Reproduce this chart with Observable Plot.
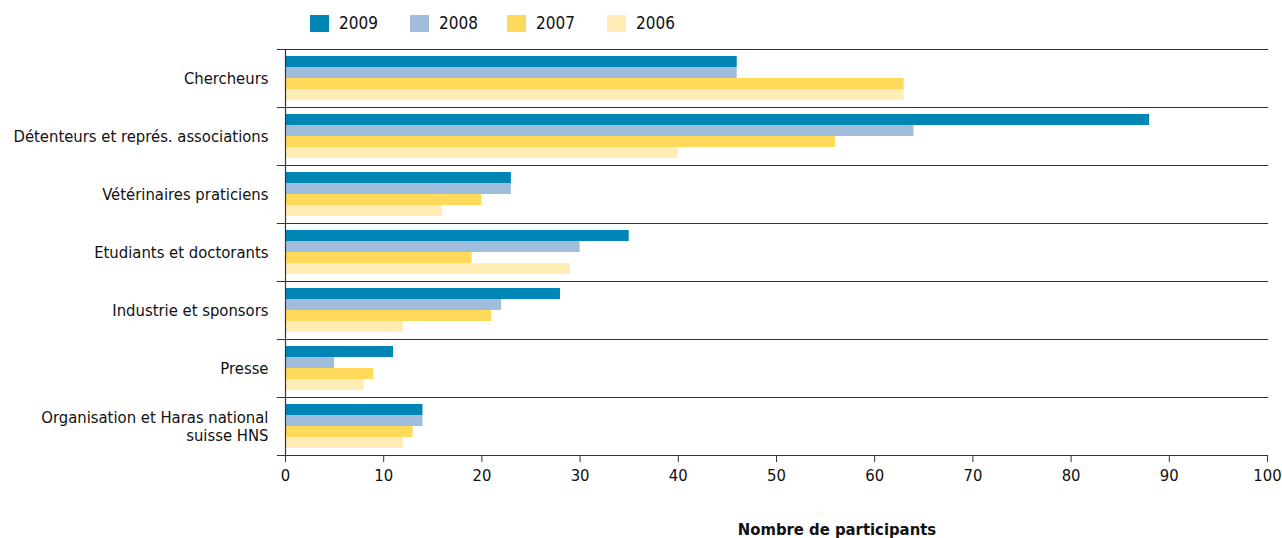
<!DOCTYPE html>
<html><head><meta charset="utf-8">
<script src="https://cdn.jsdelivr.net/npm/d3@7"></script>
<script src="https://cdn.jsdelivr.net/npm/@observablehq/plot@0.6"></script>
<style>
body{margin:0;background:#fff;font-family:"DejaVu Sans Condensed",Roboto,sans-serif;}
#wrap{position:relative;width:1282px;height:538px;overflow:hidden;}
#legend{position:absolute;left:0;top:0;height:45px;width:1282px;}
.li{position:absolute;top:13px;display:flex;align-items:center;font-size:17px;color:#111;}
.sw{width:19px;height:17px;margin-right:10px;}
#chart{position:absolute;left:0;top:45px;}
#xtitle{position:absolute;top:520px;left:687px;width:300px;text-align:center;font-weight:bold;font-size:16.5px;color:#111;}
</style></head>
<body><div id="wrap"><div id="legend"></div><div id="chart"></div><div id="xtitle">Nombre de participants</div></div>
<script>
const categories = ["Chercheurs","Détenteurs et représ. associations","Vétérinaires praticiens","Etudiants et doctorants","Industrie et sponsors","Presse","Organisation et Haras national\nsuisse HNS"];
const years = ["2009","2008","2007","2006"];
const v2009 = [46,88,23,35,28,11,14];
const v2008 = [46,64,23,30,22,5,14];
const v2007 = [63,56,20,19,21,9,13];
const v2006 = [63,40,16,29,12,8,12];
const colors = ["#0085b5","#a0bedb","#ffd95a","#ffedb5"];
const xTicks = [0,10,20,30,40,50,60,70,80,90,100];

const series = [v2009,v2008,v2007,v2006];
const data = [];
categories.forEach((c,i)=>years.forEach((y,j)=>data.push({cat:c,year:y,value:series[j][i]})));

// legend
const legendX = [310,410,507,607];
const leg = document.getElementById("legend");
years.forEach((y,j)=>{
  const d=document.createElement("div");d.className="li";d.style.left=legendX[j]+"px";
  d.innerHTML=`<div class="sw" style="background:${colors[j]}"></div><span>${y}</span>`;
  leg.appendChild(d);
});

const FONT = '"DejaVu Sans Condensed",Roboto,sans-serif';
const chart = Plot.plot({
  width:1282, height:447,
  marginTop:3, marginBottom:37, marginLeft:285, marginRight:15,
  style:{fontFamily:FONT, fontSize:"16px", color:"#111"},
  x:{domain:[0,100], ticks:xTicks, label:null},
  y:{domain:years, paddingInner:0, paddingOuter:0.45, axis:null},
  fy:{domain:categories, padding:0, label:null, axis:null},
  color:{domain:years, range:colors},
  marks:[
    Plot.barX(data,{fy:"cat", y:"year", x:"value", fill:"year", inset:0}),
    Plot.frame({anchor:"top", stroke:"#333", strokeWidth:1.2, insetLeft:-8}),
    Plot.frame({anchor:"bottom", stroke:"#333", strokeWidth:1.2, insetLeft:-8}),
    Plot.ruleX([0],{stroke:"#333", strokeWidth:1.2}),
    Plot.axisX({ticks:xTicks, tickSize:7, tickPadding:7, stroke:"#333", fontSize:16.5, label:null}),
    Plot.axisFy({anchor:"left", tickSize:0, tickPadding:17, fontSize:16.5, label:null, lineHeight:1.05})
  ]
});
document.getElementById("chart").appendChild(chart);
</script></body></html>
